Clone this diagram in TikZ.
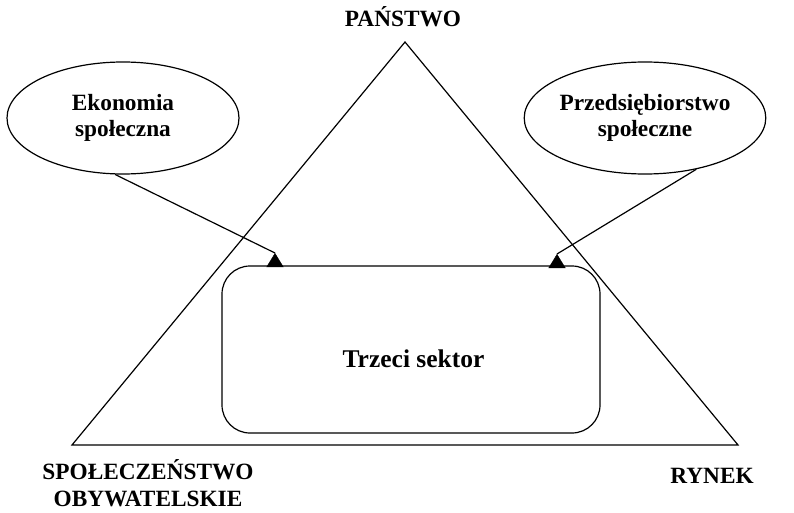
\documentclass[tikz,border=0pt]{standalone}
\usepackage{fontspec}
\setmainfont{Liberation Serif}
\usetikzlibrary{arrows.meta,shapes.geometric}

\begin{document}
\begin{tikzpicture}[
        x=1pt,y=-1pt,
        >={Triangle[length=14pt,width=17pt]},
        napis/.style={font=\bfseries\fontsize{23.3}{26.5}\selectfont,align=center},
        owal/.style={ellipse,draw,line width=1.2pt,minimum width=232pt,minimum height=112pt,inner sep=0pt,napis},
        every edge/.style={draw,line width=1.2pt},
    ]
    \useasboundingbox (0,0) rectangle (794,513);
    % trojkat
    \coordinate (szczyt) at (405,42);
    \coordinate (lewy) at (72,445);
    \coordinate (prawy) at (738,445);
    \draw[line width=1.2pt] (szczyt) -- (lewy) -- (prawy) -- cycle;
    \node[napis,anchor=base] (panstwo) at (403,27) {PAŃSTWO};
    \node[napis,anchor=south] (spol) at (148,510) {SPOŁECZEŃSTWO\\OBYWATELSKIE};
    \node[napis,anchor=base] (rynek) at (712,483) {RYNEK};
    % sektor
    \node[draw,line width=1.2pt,rounded corners=28pt,minimum width=378pt,minimum height=167pt] (sektor) at (411,349.5) {};
    \node[napis,font=\bfseries\fontsize{25.5}{28}\selectfont,anchor=base] (trzeci) at (413.5,367) {Trzeci sektor};
    % owale
    \coordinate (grot1) at (275,253);
    \coordinate (grot2) at (557,254);
    \node[owal] (ekon) at (123,118) {Ekonomia\\społeczna};
    \node[owal] (przed) at (645,118) {Przedsiębiorstwo\\społeczne};
    \draw[line width=1.2pt] (ekon.-98) -- (grot1);
    \draw[line width=1.2pt] (przed.-45) -- (grot2);
    \draw[->] (grot1 |- sektor.north) -- (grot1);
    \draw[->] (grot2 |- sektor.north) -- (grot2);
\end{tikzpicture}
\end{document}
